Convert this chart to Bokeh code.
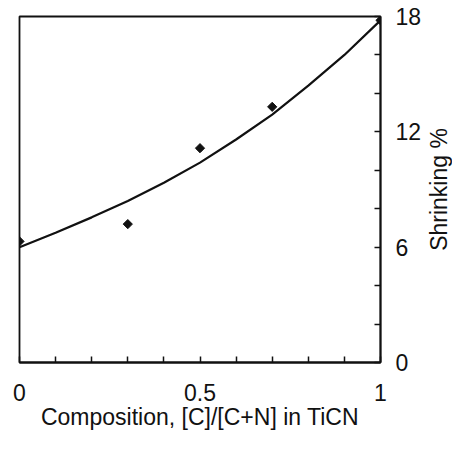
import math
from bokeh.plotting import figure
from bokeh.layouts import row
from bokeh.models import LinearAxis, FixedTicker, Range1d
from bokeh.core.properties import value
from bokeh.embed import file_html
from bokeh.resources import INLINE

# measured data points
comp = [0.0, 0.3, 0.5, 0.7, 1.0]
shrink = [6.3, 7.2, 11.15, 13.3, 17.8]

# fitted curve
curve_x = [0.0, 0.1, 0.2, 0.3, 0.4, 0.5, 0.6, 0.7, 0.8, 0.9, 1.0]
curve_y = [6.0, 6.75, 7.55, 8.4, 9.35, 10.4, 11.6, 12.9, 14.4, 16.0, 17.8]

x_ticks = [0, 0.5, 1]
x_minor = [0.1, 0.2, 0.3, 0.4, 0.6, 0.7, 0.8, 0.9]
y_ticks = [0, 6, 12, 18]
y_minor = [2, 4, 8, 10, 14, 16]

x_title = "Composition, [C]/[C+N] in TiCN"
y_title = "Shrinking %"

FONT = "Liberation Sans"
INK = "#111111"

yr = Range1d(0, 18)
p = figure(width=424, height=434, output_backend="svg", toolbar_location=None,
           x_range=Range1d(0, 1), y_range=yr,
           x_axis_location=None, y_axis_location=None,
           min_border_left=19, min_border_top=16, min_border_right=43, min_border_bottom=72)
p.grid.visible = False
p.outline_line_color = INK
p.outline_line_width = 1.8
p.background_fill_color = "white"
p.border_fill_color = "white"

xa = LinearAxis(ticker=FixedTicker(ticks=x_ticks, minor_ticks=x_minor),
                axis_label=x_title)
ya = LinearAxis(ticker=FixedTicker(ticks=y_ticks, minor_ticks=y_minor))
for ax in (xa, ya):
    ax.axis_line_color = INK
    ax.axis_line_width = 1.8
    ax.major_tick_in = 6
    ax.major_tick_out = 0
    ax.minor_tick_in = 6
    ax.minor_tick_out = 0
    ax.major_tick_line_color = INK
    ax.minor_tick_line_color = INK
    ax.major_tick_line_width = 1.5
    ax.minor_tick_line_width = 1.5
    ax.major_label_text_font = FONT
    ax.major_label_text_font_size = "23px"
    ax.major_label_text_color = INK
    ax.axis_label_text_font = FONT
    ax.axis_label_text_font_size = "23px"
    ax.axis_label_text_font_style = "normal"
    ax.axis_label_text_color = INK
xa.major_label_standoff = 21
xa.axis_label_standoff = 0
ya.major_label_standoff = 15
p.add_layout(xa, "below")
p.add_layout(ya, "right")

p.line(curve_x, curve_y, line_color=INK, line_width=2.2)
p.scatter(comp, shrink, marker="square", angle=math.pi / 4, size=6.5,
          fill_color=INK, line_color=INK)

# narrow strip on the right carrying the vertical axis title (reads bottom-to-top)
q = figure(width=28, height=434, output_backend="svg", toolbar_location=None,
           x_range=Range1d(0, 1), y_range=yr,
           x_axis_location=None, y_axis_location=None,
           min_border_left=0, min_border_right=0, min_border_top=16, min_border_bottom=72)
q.grid.visible = False
q.outline_line_color = None
q.background_fill_color = "white"
q.border_fill_color = "white"
q.text(x=[0.5], y=[9], text=[y_title], angle=math.pi / 2,
       text_align="center", text_baseline="middle",
       text_font=value(FONT), text_font_size="23px", text_color=INK)

layout = row(p, q)
open("out.html", "w").write(file_html(layout, INLINE))
